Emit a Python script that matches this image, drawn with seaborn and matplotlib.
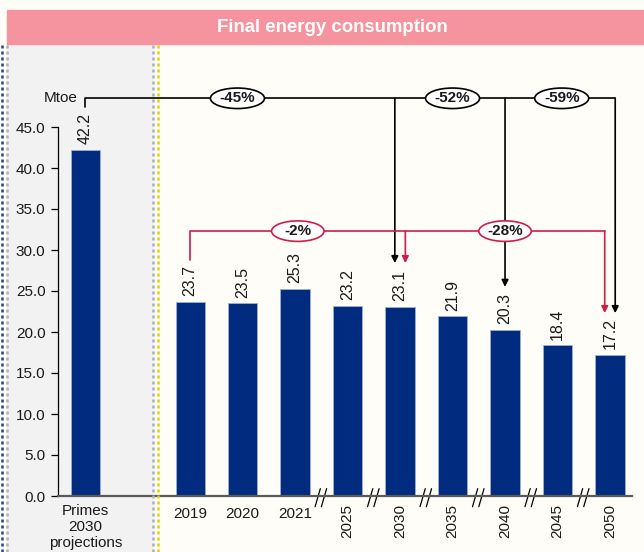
import numpy as np
import pandas as pd
import matplotlib
matplotlib.use("Agg")
import matplotlib.pyplot as plt
from matplotlib.patches import Ellipse, Rectangle
from matplotlib.lines import Line2D
import seaborn as sns

# data
categories = ["Primes\n2030\nprojections", "2019", "2020", "2021", "2025",
              "2030", "2035", "2040", "2045", "2050"]
values = [42.2, 23.7, 23.5, 25.3, 23.2, 23.1, 21.9, 20.3, 18.4, 17.2]
yticks = [0, 5, 10, 15, 20, 25, 30, 35, 40, 45]
black_changes = {"2030": "-45%", "2040": "-52%", "2050": "-59%"}
red_changes = {"2030": "-2%", "2050": "-28%"}

NAVY = "#002b7f"
RED = "#d01c4b"
PINK = "#f5949f"
BG = "#fffdf7"
TXT = "#1a1a1a"

sns.set_theme(style="white")
plt.rcParams["font.family"] = ["Liberation Sans", "DejaVu Sans"]

pos = [0] + list(range(2, 2 + len(categories) - 1))
df = pd.DataFrame({"cat": categories, "value": values, "pos": pos})
xpos = dict(zip(categories, pos))

fig = plt.figure(figsize=(6.44, 5.52), dpi=100)
fig.patch.set_facecolor(BG)

# left gray panel and separators
fig.add_artist(Rectangle((7 / 644, 0), (153 - 7) / 644, (552 - 44) / 552,
                         transform=fig.transFigure, color="#f2f2f2", zorder=0))
for xp, col in [(2, "#1f3f9f"), (7, "#b0b0b0"), (153, "#b0b0b0"), (158, "#f5c800")]:
    fig.add_artist(Line2D([xp / 644, xp / 644], [0, (552 - 44) / 552],
                          transform=fig.transFigure, color=col, lw=1.8,
                          ls=(0, (1.2, 1.2)), zorder=1))

# header
fig.add_artist(Rectangle((7 / 644, (552 - 44) / 552), 1, 34 / 552,
                         transform=fig.transFigure, color=PINK, zorder=1))
fig.text(332.5 / 644, (552 - 27) / 552, "Final energy consumption",
         color="white", fontsize=13.4, fontweight="bold", ha="center", va="center")

ax = fig.add_axes([58 / 644, (552 - 496) / 552, (632 - 58) / 644, (496 - 86) / 552])
ax.patch.set_alpha(0)

sns.barplot(data=df, x="pos", y="value", native_scale=True, width=0.56,
            color=NAVY, saturation=1, edgecolor="#9fb0d0", linewidth=0.6, ax=ax)

ax.set_xlim(-0.52, 10.42)
ax.set_ylim(0, 50)
ax.set_xlabel("")
ax.set_ylabel("")
for s in ["top", "right"]:
    ax.spines[s].set_visible(False)
ax.spines["left"].set_bounds(0, 45)
ax.spines["left"].set_color("black")
ax.spines["left"].set_linewidth(0.9)
ax.spines["bottom"].set_color("#5a5a5a")
ax.spines["bottom"].set_linewidth(1.6)
ax.set_yticks(yticks)
ax.set_yticklabels([f"{v:.1f}" for v in yticks], fontsize=11, color=TXT)
ax.tick_params(axis="y", which="both", left=True, length=5, width=0.9, color="black",
               direction="out", pad=4)
ax.tick_params(axis="x", bottom=False)
ax.set_xticks([])

# x labels
trans = ax.get_xaxis_transform()
for c, p in zip(categories, pos):
    if p == 0:
        ax.text(p, -0.02, c, transform=trans, ha="center", va="top", fontsize=11,
                linespacing=1.15, color=TXT)
    elif c in ("2019", "2020", "2021"):
        ax.text(p, -0.027, c, transform=trans, ha="center", va="top", fontsize=11,
                color=TXT)
    else:
        ax.text(p, -0.02, c, transform=trans, ha="center", va="top", fontsize=11,
                rotation=90, color=TXT)

# break marks between non-consecutive years
for p in np.arange(4.5, 10, 1.0):
    for dx in (-0.07, 0.05):
        ax.plot([p + dx - 0.05, p + dx + 0.05], [-1.3, 0.9], color="black", lw=0.9,
                clip_on=False)

# value labels
for c, p, v in zip(categories, pos, values):
    ax.annotate(f"{v:.1f}", (p, v), xytext=(0, 4), textcoords="offset points",
                ha="center", va="bottom", rotation=90, fontsize=11.5, color=TXT)

# bracket annotations
def bracket(y, x0, y0, drops, labels, color, ell_w):
    ax.plot([x0, x0, drops[-1][0]], [y0, y, y], color=color, lw=1.2, clip_on=False,
            zorder=3)
    for xd, ytip in drops:
        ax.annotate("", xy=(xd, ytip), xytext=(xd, y),
                    arrowprops=dict(arrowstyle="-|>", color=color, lw=1.2,
                                    mutation_scale=10, shrinkA=0, shrinkB=0),
                    annotation_clip=False, zorder=3)
    for xl, txt in labels:
        ax.add_patch(Ellipse((xl, y), ell_w, 2.5, facecolor="white", edgecolor=color,
                             lw=1.2, clip_on=False, zorder=4))
        ax.text(xl, y, txt, ha="center", va="center", fontsize=11, fontweight="bold",
                color=TXT, zorder=5)

y_black = 48.5
bracket(y_black, xpos[categories[0]], 47.4,
        [(xpos["2030"] - 0.1, 28.4), (xpos["2040"], 25.5), (xpos["2050"] + 0.1, 22.3)],
        [(2.9, black_changes["2030"]), (7.0, black_changes["2040"]),
         (9.08, black_changes["2050"])], "black", 1.03)
bracket(32.3, xpos["2019"], 28.8,
        [(xpos["2030"] + 0.1, 28.4), (xpos["2050"] - 0.1, 22.3)],
        [(4.05, red_changes["2030"]), (8.0, red_changes["2050"])], RED, 1.0)

ax.text(-0.15, y_black, "Mtoe", ha="right", va="center", fontsize=11, color=TXT)

fig.savefig("out.png", dpi=100, facecolor=fig.get_facecolor())
